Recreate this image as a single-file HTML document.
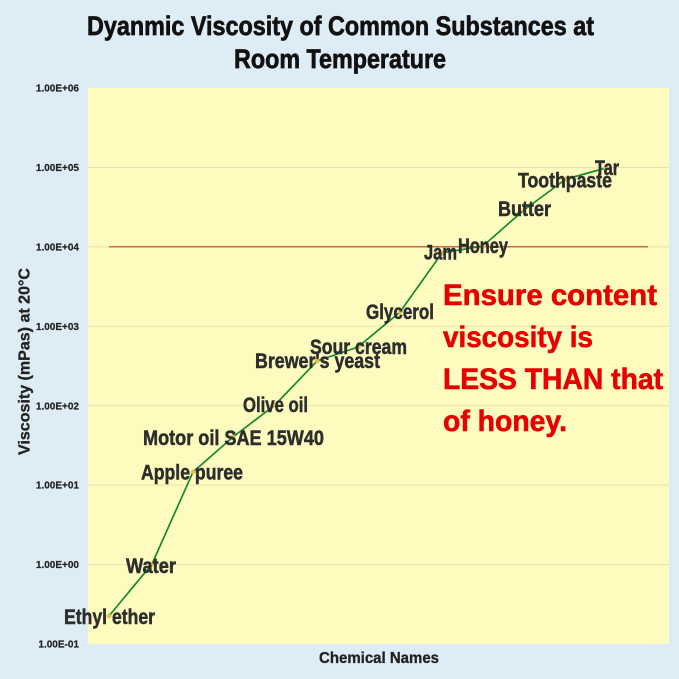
<!DOCTYPE html>
<html><head><meta charset="utf-8"><style>
html,body{margin:0;padding:0;background:#ddecf5;}
svg{display:block;}
text{font-family:"Liberation Sans Narrow","Liberation Sans",sans-serif;font-weight:bold;}
</style></head><body>
<svg width="679" height="679" viewBox="0 0 679 679" xmlns="http://www.w3.org/2000/svg">
<rect x="0" y="0" width="679" height="679" fill="#ddecf5"/>
<rect x="88" y="88" width="581" height="556" fill="#fdfcbe"/>
<g stroke="#e6dfb2" stroke-width="1">
<line x1="88" y1="564.6" x2="669" y2="564.6"/>
<line x1="88" y1="485.1" x2="669" y2="485.1"/>
<line x1="88" y1="405.7" x2="669" y2="405.7"/>
<line x1="88" y1="326.3" x2="669" y2="326.3"/>
<line x1="88" y1="246.9" x2="669" y2="246.9"/>
<line x1="88" y1="167.4" x2="669" y2="167.4"/>
</g>
<line x1="109" y1="246.7" x2="648" y2="246.7" stroke="#cf6a48" stroke-width="1.5"/>
<!-- title -->
<g fill="#111" stroke="#111" stroke-width="0.7">
<text x="87" y="35" font-size="27" textLength="507" lengthAdjust="spacingAndGlyphs">Dyanmic Viscosity of Common Substances at</text>
<text x="234" y="68" font-size="27" textLength="212" lengthAdjust="spacingAndGlyphs">Room Temperature</text>
</g>
<!-- tick labels -->
<g font-size="10" fill="#222" stroke="#222" stroke-width="0.2" text-anchor="end">
<text x="79" y="91.5">1.00E+06</text>
<text x="79" y="171">1.00E+05</text>
<text x="79" y="250.5">1.00E+04</text>
<text x="79" y="330">1.00E+03</text>
<text x="79" y="409.5">1.00E+02</text>
<text x="79" y="488.5">1.00E+01</text>
<text x="79" y="568">1.00E+00</text>
<text x="79" y="647.5">1.00E-01</text>
</g>
<!-- axis titles -->
<g fill="#222" stroke="#222" stroke-width="0.3">
<text transform="translate(29.5,455) rotate(-90)" x="0" y="0" font-size="16" textLength="187" lengthAdjust="spacingAndGlyphs">Viscosity (mPas) at 20°C</text>
<text x="319" y="663" font-size="16" textLength="120" lengthAdjust="spacingAndGlyphs">Chemical Names</text>
</g>
<!-- series -->
<polyline fill="none" stroke="#168a2c" stroke-width="1.7" points="109,616 152,564 193,472 233,437 275,405 317,361 358,347 400,312 442,253 483,246 524,210 566,179 606,168"/>
<g fill="#e2c24a">
<path d="M109,613 L112,616 L109,619 L106,616Z"/>
<path d="M152,561 L155,564 L152,567 L149,564Z"/>
<path d="M193,469 L196,472 L193,475 L190,472Z"/>
<path d="M233,434 L236,437 L233,440 L230,437Z"/>
<path d="M275,402 L278,405 L275,408 L272,405Z"/>
<path d="M317,358 L320,361 L317,364 L314,361Z"/>
<path d="M358,344 L361,347 L358,350 L355,347Z"/>
<path d="M400,309 L403,312 L400,315 L397,312Z"/>
<path d="M442,250 L445,253 L442,256 L439,253Z"/>
<path d="M483,243 L486,246 L483,249 L480,246Z"/>
<path d="M524,207 L527,210 L524,213 L521,210Z"/>
<path d="M566,176 L569,179 L566,182 L563,179Z"/>
<path d="M606,165 L609,168 L606,171 L603,168Z"/>
</g>
<!-- data labels -->
<g font-size="21" fill="#2d2d2d" stroke="#2d2d2d" stroke-width="0.5">
<text x="64" y="624" textLength="91" lengthAdjust="spacingAndGlyphs">Ethyl ether</text>
<text x="126" y="573" textLength="50" lengthAdjust="spacingAndGlyphs">Water</text>
<text x="141" y="479.5" textLength="102" lengthAdjust="spacingAndGlyphs">Apple puree</text>
<text x="143" y="445" textLength="181" lengthAdjust="spacingAndGlyphs">Motor oil SAE 15W40</text>
<text x="243" y="412" textLength="65" lengthAdjust="spacingAndGlyphs">Olive oil</text>
<text x="255" y="368" textLength="125" lengthAdjust="spacingAndGlyphs">Brewer's yeast</text>
<text x="310" y="354" textLength="97" lengthAdjust="spacingAndGlyphs">Sour cream</text>
<text x="366" y="319" textLength="68" lengthAdjust="spacingAndGlyphs">Glycerol</text>
<text x="424" y="259.5" textLength="33" lengthAdjust="spacingAndGlyphs">Jam</text>
<text x="458" y="253" textLength="50" lengthAdjust="spacingAndGlyphs">Honey</text>
<text x="498" y="216" textLength="53" lengthAdjust="spacingAndGlyphs">Butter</text>
<text x="518" y="187.5" textLength="94" lengthAdjust="spacingAndGlyphs">Toothpaste</text>
<text x="595" y="175" textLength="24" lengthAdjust="spacingAndGlyphs">Tar</text>
</g>
<!-- red note -->
<g font-size="30" fill="#e60000" stroke="#e60000" stroke-width="0.6">
<text x="443" y="305" textLength="214" lengthAdjust="spacingAndGlyphs">Ensure content</text>
<text x="443" y="347" textLength="150" lengthAdjust="spacingAndGlyphs">viscosity is</text>
<text x="443" y="389" textLength="220" lengthAdjust="spacingAndGlyphs">LESS THAN that</text>
<text x="443" y="431" textLength="124" lengthAdjust="spacingAndGlyphs">of honey.</text>
</g>
</svg>
</body></html>
